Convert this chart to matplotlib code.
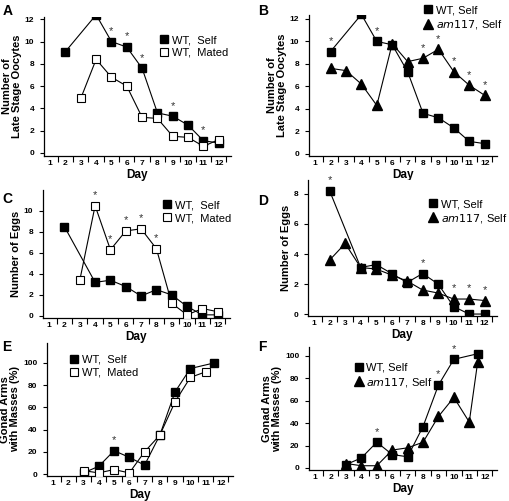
import numpy as np
import matplotlib
matplotlib.use("Agg")
import matplotlib.pyplot as plt

plt.rcParams['font.family'] = ['Liberation Sans', 'DejaVu Sans']

# ---- data ----
# A: late stage oocytes, WT self vs WT mated
a_self_days = [2, 4, 5, 6, 7, 8, 9, 10, 11, 12]
a_self = [9.1, 12.4, 10.0, 9.5, 7.6, 3.6, 3.3, 2.5, 1.1, 0.9]
a_mated_days = [3, 4, 5, 6, 7, 8, 9, 10, 11, 12]
a_mated = [4.9, 8.4, 6.8, 6.0, 3.2, 3.1, 1.5, 1.4, 0.6, 1.2]
a_stars = [4, 5, 6, 7, 9, 11]

# B: late stage oocytes, WT self vs am117 self
b_wt_days = [2, 4, 5, 6, 7, 8, 9, 10, 11, 12]
b_wt = [9.1, 12.4, 10.0, 9.7, 7.3, 3.6, 3.2, 2.3, 1.1, 0.9]
b_am_days = [2, 3, 4, 5, 6, 7, 8, 9, 10, 11, 12]
b_am = [7.6, 7.4, 6.2, 4.3, 9.8, 8.2, 8.5, 9.3, 7.3, 6.1, 5.2]
b_stars = [2, 4, 5, 8, 9, 10, 11, 12]

# C: eggs, WT self vs WT mated
c_self_days = [2, 4, 5, 6, 7, 8, 9, 10, 11, 12]
c_self = [8.5, 3.2, 3.4, 2.8, 1.9, 2.5, 2.0, 0.9, 0.1, 0.1]
c_mated_days = [3, 4, 5, 6, 7, 8, 9, 10, 11, 12]
c_mated = [3.4, 10.5, 6.3, 8.1, 8.3, 6.4, 1.2, 0.1, 0.7, 0.4]
c_stars = [4, 5, 6, 7, 8]

# D: eggs, WT self vs am117 self
d_wt_days = [2, 4, 5, 6, 7, 8, 9, 10, 11, 12]
d_wt = [8.2, 3.1, 3.3, 2.7, 2.1, 2.7, 2.0, 0.5, 0.0, 0.0]
d_am_days = [2, 3, 4, 5, 6, 7, 8, 9, 10, 11, 12]
d_am = [3.6, 4.7, 3.1, 3.0, 2.6, 2.2, 1.6, 1.4, 1.0, 1.0, 0.9]
d_stars = [2, 8, 10, 11, 12]

# E: gonad arms with masses (%), WT self vs WT mated
e_self_days = [3, 4, 5, 6, 7, 8, 9, 10, 11.55]
e_self = [1, 7, 21, 15, 8, 35, 74, 95, 100]
e_mated_days = [3, 4, 5, 6, 7, 8, 9, 10, 11]
e_mated = [3, 1, 4, 1, 20, 35, 65, 87, 92]
e_stars = [5]

# F: gonad arms with masses (%), WT self vs am117 self
f_wt_days = [3, 4, 5, 6, 7, 8, 9, 10, 11.55]
f_wt = [3, 9, 23, 12, 10, 37, 74, 97, 102]
f_am_days = [3, 4, 5, 6, 7, 8, 9, 10, 11, 11.55]
f_am = [4, 2, 2, 16, 18, 23, 46, 63, 41, 95]
f_stars = [5, 9, 10]

day_labels = [str(d) for d in range(1, 13)]

fig = plt.figure(figsize=(5.10, 5.01), dpi=100)
W, H = 510.0, 501.0


def make_ax(l, r, b, t):
    return fig.add_axes([l / W, 1 - b / H, (r - l) / W, (b - t) / H])


def style(ax, ylim, yticks, ylabel, xlabel=True):
    ax.set_xlim(0.6, 12.8)
    ax.set_ylim(*ylim)
    for s in ['top', 'right']:
        ax.spines[s].set_visible(False)
    for s in ['left', 'bottom']:
        ax.spines[s].set_linewidth(0.9)
    ax.set_xticks(np.arange(1.5, 13, 1.0))
    ax.set_xticklabels([])
    ax.set_xticks(range(1, 13), minor=True)
    ax.set_xticklabels(day_labels, minor=True, fontsize=6, fontweight='bold')
    ax.tick_params(axis='x', which='major', direction='out', length=4, width=0.8)
    ax.tick_params(axis='x', which='minor', length=0, pad=3)
    ax.set_yticks(yticks)
    ax.set_yticklabels([str(v) for v in yticks], fontsize=6, fontweight='bold')
    ax.tick_params(axis='y', direction='out', length=3, width=0.8, pad=4)
    ax.set_ylabel(ylabel, fontsize=8, fontweight='bold', linespacing=1.0,
                  labelpad=2)
    if xlabel:
        ax.set_xlabel('Day', fontsize=8.5, fontweight='bold', labelpad=1)


def stars(ax, days, series):
    for d in days:
        top = max(v for xs, ys in series for x, v in zip(xs, ys) if x == d)
        ax.annotate('*', (d, top), xytext=(0, 4), textcoords='offset points',
                    ha='center', va='bottom', fontsize=8, color='#333333')


def plot_pair(ax, x1, y1, lab1, x2, y2, lab2, second='open'):
    ax.plot(x1, y1, '-', color='black', lw=0.8, marker='s', ms=6,
            mfc='black', mec='black', label=lab1, zorder=3)
    if second == 'open':
        ax.plot(x2, y2, '-', color='black', lw=0.8, marker='s', ms=6,
                mfc='white', mec='black', mew=0.8, label=lab2, zorder=4)
    else:
        ax.plot(x2, y2, '-', color='black', lw=0.8, marker='^', ms=6.5,
                mfc='black', mec='black', label=lab2, zorder=4)


def legend(ax, anchor):
    leg = ax.legend(loc='upper left', bbox_to_anchor=anchor, frameon=False,
                    fontsize=8, handlelength=0.8, handletextpad=0.3,
                    borderpad=0, borderaxespad=0, labelspacing=0.25)
    for h in leg.legend_handles:
        h.set_linestyle('none')
    return leg


am_label = r'$\it{am117}$, Self'

# A
axA = make_ax(44, 231, 156, 17)
plot_pair(axA, a_self_days, a_self, 'WT,  Self', a_mated_days, a_mated, 'WT,  Mated')
style(axA, (-0.27, 12.2), [0, 2, 4, 6, 8, 10, 12], 'Number of\nLate Stage Oocytes')
stars(axA, a_stars, [(a_self_days, a_self), (a_mated_days, a_mated)])
legend(axA, (0.62, 0.87))

# B
axB = make_ax(309, 497, 156, 15)
plot_pair(axB, b_wt_days, b_wt, 'WT, Self', b_am_days, b_am, am_label, second='tri')
style(axB, (-0.2, 12.35), [0, 2, 4, 6, 8, 10, 12], 'Number of\nLate Stage Oocytes')
stars(axB, b_stars, [(b_wt_days, b_wt), (b_am_days, b_am)])
legend(axB, (0.61, 1.07))

# C
axC = make_ax(43, 230, 318, 190)
plot_pair(axC, c_self_days, c_self, 'WT,  Self', c_mated_days, c_mated, 'WT,  Mated')
style(axC, (-0.2, 12.0), [0, 2, 4, 6, 8, 10], 'Number of Eggs')
stars(axC, c_stars, [(c_self_days, c_self), (c_mated_days, c_mated)])
legend(axC, (0.64, 0.92))

# D
axD = make_ax(308, 497, 316, 180)
plot_pair(axD, d_wt_days, d_wt, 'WT, Self', d_am_days, d_am, am_label, second='tri')
style(axD, (-0.13, 8.93), [0, 2, 4, 6, 8], 'Number of Eggs')
stars(axD, d_stars, [(d_wt_days, d_wt), (d_am_days, d_am)])
legend(axD, (0.64, 0.86))

# E
axE = make_ax(47, 233, 476, 343)
plot_pair(axE, e_self_days, e_self, 'WT,  Self', e_mated_days, e_mated, 'WT,  Mated')
style(axE, (-1.8, 118), [0, 20, 40, 60, 80, 100], 'Gonad Arms\nwith Masses (%)')
stars(axE, e_stars, [(e_self_days, e_self), (e_mated_days, e_mated)])
legend(axE, (0.12, 0.91))

# F
axF = make_ax(309, 497, 470, 347)
plot_pair(axF, f_wt_days, f_wt, 'WT, Self', f_am_days, f_am, am_label, second='tri')
style(axF, (-1.8, 108), [0, 20, 40, 60, 80, 100], 'Gonad Arms\nwith Masses (%)')
stars(axF, f_stars, [(f_wt_days, f_wt), (f_am_days, f_am)])
legend(axF, (0.24, 0.87))

for letter, x, y in [('A', 3, 4), ('B', 258, 4), ('C', 2, 192), ('D', 258, 194),
                     ('E', 2, 340), ('F', 258, 340)]:
    fig.text(x / W, 1 - y / H, letter, fontsize=10, fontweight='bold',
             ha='left', va='top')

fig.savefig('out.png', dpi=100)
